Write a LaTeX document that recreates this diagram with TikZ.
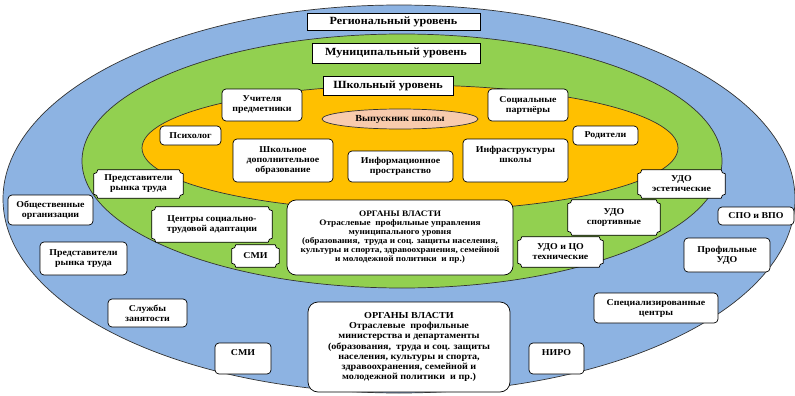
\documentclass[tikz,border=0pt]{standalone}
\usepackage{fontspec}
\setmainfont[FakeStretch=1.1]{Liberation Serif}
\usetikzlibrary{calc,shapes.geometric}
\pgfdeclarelayer{back}
\pgfdeclarelayer{mid}
\pgfsetlayers{back,mid,main}
\definecolor{cblue}{RGB}{141,179,226}
\definecolor{cgreen}{RGB}{146,208,80}
\definecolor{corange}{RGB}{255,192,0}
\definecolor{cpeach}{RGB}{248,203,173}
\newcommand\plqr{4pt}
\newcommand\plaquebox[1]{%
  \begin{pgfonlayer}{mid}
  \draw[plq] ($(#1.north west)+(0,-\plqr)$) arc[start angle=270,end angle=360,radius=\plqr]
    -- ($(#1.north east)+(-\plqr,0)$) arc[start angle=180,end angle=270,radius=\plqr]
    -- ($(#1.south east)+(0,\plqr)$) arc[start angle=90,end angle=180,radius=\plqr]
    -- ($(#1.south west)+(\plqr,0)$) arc[start angle=0,end angle=90,radius=\plqr]
    -- cycle;
  \end{pgfonlayer}}
\tikzset{
  ell/.style={draw=black!80, line width=0.7pt},
  lvl/.style={draw=black, line width=0.7pt, fill=white, inner sep=0pt,
    font=\bfseries\fontsize{11}{13}\selectfont},
  rb/.style={draw=black, line width=0.7pt, fill=white, rounded corners=4pt,
    align=center, inner sep=0pt, font=\bfseries\fontsize{9}{10}\selectfont},
  pq/.style={align=center, inner sep=0pt, font=\bfseries\fontsize{9}{10}\selectfont},
  plq/.style={draw=black, line width=0.7pt, fill=white},
}
\begin{document}
\begin{tikzpicture}[x=1pt,y=-1pt]
\useasboundingbox (0,0) rectangle (795,396);
\begin{pgfonlayer}{back}
\draw[ell, fill=cblue] (399,199) ellipse [x radius=396pt, y radius=194pt];
\draw[ell, fill=cgreen] (402,161) ellipse [x radius=320pt, y radius=127pt];
\draw[ell, fill=corange] (410,148) ellipse [x radius=268pt, y radius=63pt];
\end{pgfonlayer}
\node[ell, fill=cpeach, ellipse, minimum width=156pt, minimum height=20pt, inner sep=0pt,
  font=\bfseries\fontsize{9.3}{10}\selectfont] (grad) at (400,119) {Выпускник школы};

% level labels
\node[lvl, minimum width=173pt, minimum height=17pt] (reg) at (393.5,21.5) {Региональный уровень};
\node[lvl, minimum width=168pt, minimum height=20pt] (mun) at (396,53) {Муниципальный уровень};
\node[lvl, minimum width=130pt, minimum height=19pt] (sch) at (388,85.5) {Школьный уровень};

% school level
\node[rb, minimum width=80pt, minimum height=32pt] (teach) at (262,105) {Учителя\\предметники};
\node[rb, minimum width=61pt, minimum height=19pt] (psy) at (190.5,135.5) {Психолог};
\node[rb, minimum width=100pt, minimum height=43pt] (sdo) at (283,160.5) {Школьное\\дополнительное\\образование};
\node[rb, minimum width=105pt, minimum height=31pt] (info) at (400.5,166.5) {Информационное\\пространство};
\node[rb, minimum width=105pt, minimum height=43pt, text depth=12pt] (infra) at (515.5,160.5) {Инфраструктуры\\школы};
\node[rb, minimum width=80pt, minimum height=32pt] (part) at (528,105) {Социальные\\партнёры};
\node[rb, minimum width=65pt, minimum height=19pt] (par) at (605.5,135.5) {Родители};

% municipal level
\node[pq, minimum width=89pt, minimum height=28pt] (pr1) at (138.5,184) {Представители\\рынка труда};
\plaquebox{pr1}
\node[pq, minimum width=87pt, minimum height=28pt] (udoe) at (681.5,184) {УДО\\эстетические};
\plaquebox{udoe}
\node[pq, minimum width=120pt, minimum height=35pt] (cent) at (212,224.5) {Центры социально-\\трудовой адаптации};
\plaquebox{cent}
\node[pq, minimum width=47pt, minimum height=22pt] (smi1) at (255.5,256) {СМИ};
\plaquebox{smi1}
\node[pq, minimum width=92pt, minimum height=35pt] (udos) at (614,217.5) {УДО\\спортивные};
\plaquebox{udos}
\node[pq, minimum width=85pt, minimum height=30pt] (udot) at (560.5,252) {УДО и ЦО\\технические};
\plaquebox{udot}
\node[rb, rounded corners=9pt, minimum width=226pt, minimum height=75pt,
  font=\bfseries\fontsize{8.4}{9}\selectfont] (orgm) at (400,237.5)
  {ОРГАНЫ ВЛАСТИ\\Отраслевые\ \ профильные управления\\муниципального уровня\\(образования,\ \ труда и соц. защиты населения,\\культуры и спорта, здравоохранения, семейной\\и молодежной политики\ \ и пр.)};

% regional level
\node[rb, minimum width=85pt, minimum height=30pt] (obsh) at (50.5,210) {Общественные\\организации};
\node[rb, minimum width=87pt, minimum height=33pt] (pr2) at (83.5,258.5) {Представители\\рынка труда};
\node[rb, minimum width=79pt, minimum height=28pt] (sluzh) at (147.5,313) {Службы\\занятости};
\node[rb, minimum width=56pt, minimum height=31pt, text depth=12pt] (smi2) at (243,358.5) {СМИ};
\node[rb, rounded corners=10pt, minimum width=202pt, minimum height=90pt,
  font=\bfseries\fontsize{9.2}{10.3}\selectfont] (orgr) at (409,347)
  {ОРГАНЫ ВЛАСТИ\\Отраслевые\ \ профильные\\министерства и департаменты\\(образования,\ \ труда и соц. защиты\\населения, культуры и спорта,\\здравоохранения, семейной и\\молодежной политики\ \ и пр.)};
\node[rb, minimum width=76pt, minimum height=18pt] (spo) at (756,216) {СПО и ВПО};
\node[rb, minimum width=86pt, minimum height=34pt] (pudo) at (727,255) {Профильные\\УДО};
\node[rb, minimum width=124pt, minimum height=30pt] (spec) at (656,308) {Специализированные\\центры};
\node[rb, minimum width=55pt, minimum height=31pt, text depth=12pt] (niro) at (556.5,358.5) {НИРО};
\end{tikzpicture}
\end{document}
